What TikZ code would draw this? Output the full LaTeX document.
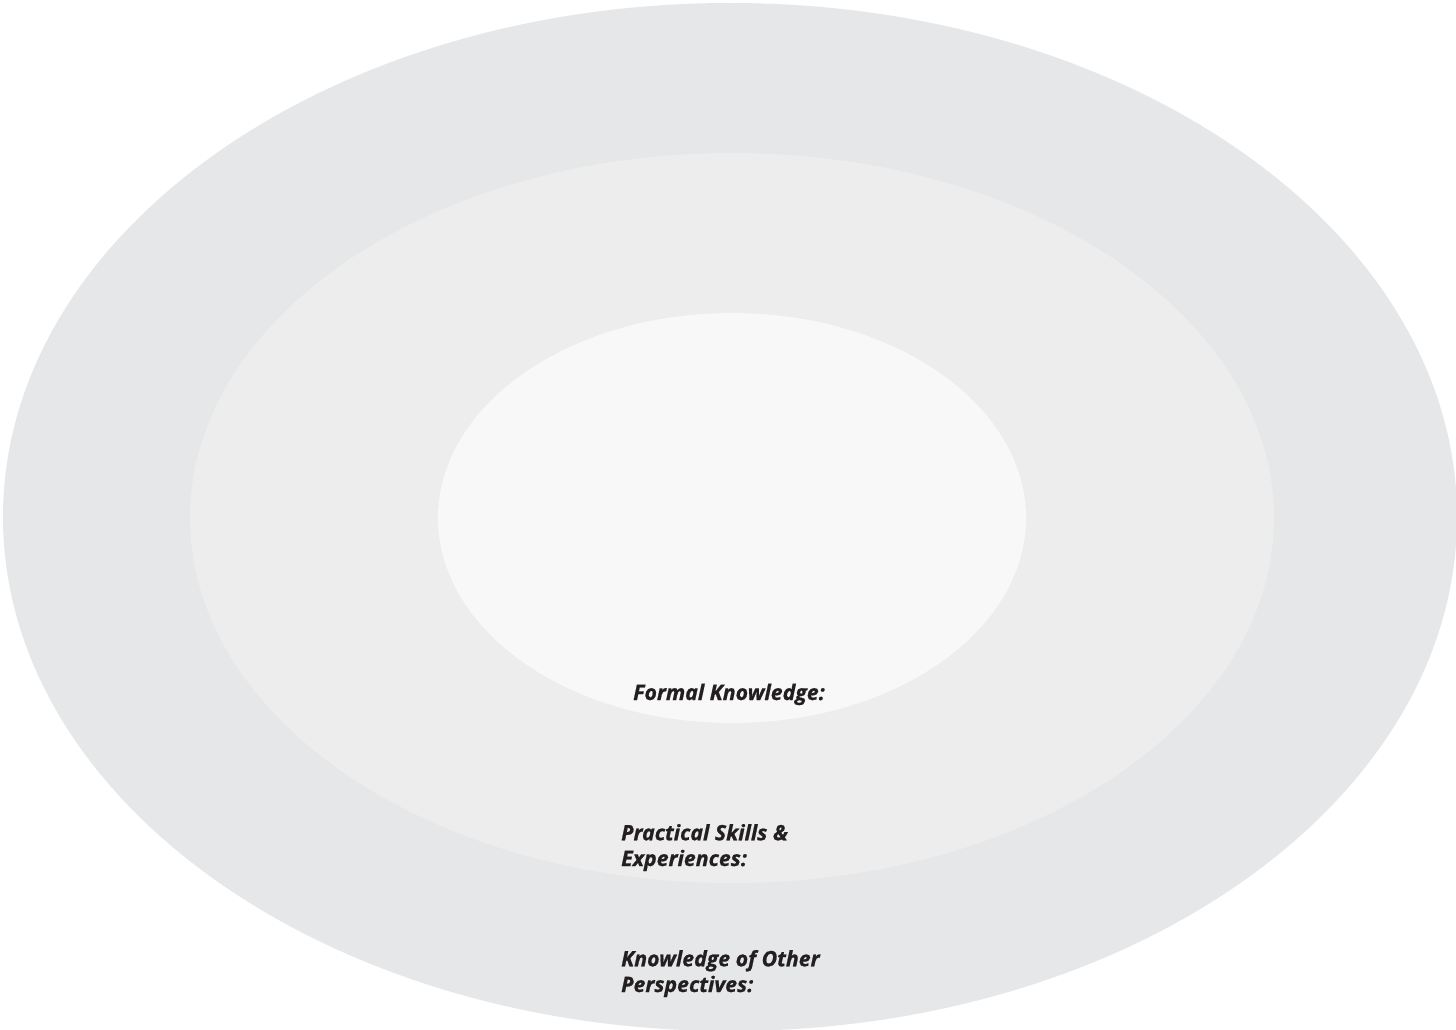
\documentclass[tikz,border=0pt]{standalone}
\usepackage{fontspec}
\setmainfont{Open Sans}[BoldItalicFeatures={FakeBold=0.8}]
\definecolor{ringout}{HTML}{E6E7E8}
\definecolor{ringmid}{HTML}{EDEDED}
\definecolor{ringin}{HTML}{F8F8F8}
\definecolor{labeltext}{HTML}{231F20}
\begin{document}
\begin{tikzpicture}[x=1pt,y=-1pt,
  lbl/.style={inner sep=0pt, align=left, anchor=base west, text=labeltext,
    font=\fontsize{21.3}{25.7}\selectfont\bfseries\itshape}]
\useasboundingbox (0,0) rectangle (1456,1030);
\fill[white] (0,0) rectangle (1456,1030);
\fill[ringout] (730,517) ellipse [x radius=727, y radius=514];
\fill[ringmid] (732,518) ellipse [x radius=542, y radius=365];
\fill[ringin] (732,518) ellipse [x radius=294, y radius=205];
\node[lbl] (formal) at (633,700) {Formal Knowledge:};
\node[lbl] (practical) at (621,866) {Practical Skills \&\\Experiences:};
\node[lbl] (other) at (621,992) {Knowledge of Other\\Perspectives:};
\end{tikzpicture}
\end{document}
